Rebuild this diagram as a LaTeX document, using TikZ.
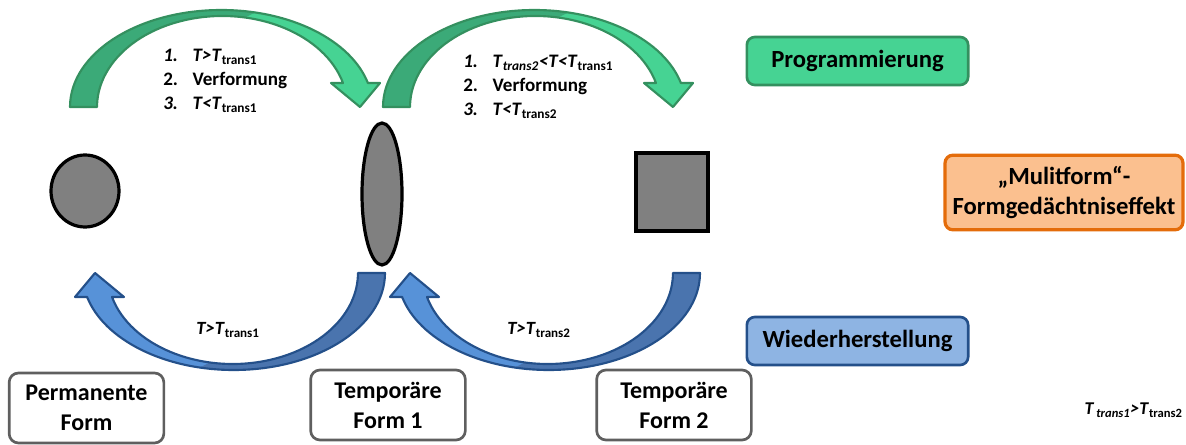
\documentclass[tikz,border=0pt]{standalone}
\usepackage{fontspec}
\setmainfont{Carlito}
\usetikzlibrary{shapes.geometric}
\definecolor{gnlight}{HTML}{46D393}
\definecolor{gndark}{HTML}{3BAA78}
\definecolor{gnline}{HTML}{34905F}
\definecolor{bllight}{HTML}{5792D8}
\definecolor{bldark}{HTML}{4A74AE}
\definecolor{blline}{HTML}{24508A}
\definecolor{bboxfill}{HTML}{8EB4E3}
\definecolor{oboxfill}{HTML}{FBC08F}
\definecolor{oboxline}{HTML}{E46C0A}
\definecolor{framegray}{HTML}{5F5F5F}
\definecolor{blobgray}{HTML}{808080}
\tikzset{
  bentarrow/.pic={
    \fill[#1light] (70,107) arc[start angle=-180,end angle=-14.3,x radius=151.3,y radius=97]
      -- (380,83) -- (360,107) -- (331,83) -- (343,83)
      arc[start angle=-15.3,end angle=-180,x radius=125.2,y radius=91] -- cycle;
    \fill[#1dark] (70,107) arc[start angle=-180,end angle=-77,x radius=151.3,y radius=97]
      -- (245,17.5) arc[start angle=-79.5,end angle=-180,x radius=125.2,y radius=91] -- cycle;
    \draw[#1line,line width=1.6pt,line join=round] (70,107)
      arc[start angle=-180,end angle=-14.3,x radius=151.3,y radius=97]
      -- (380,83) -- (360,107) -- (331,83) -- (343,83)
      arc[start angle=-15.3,end angle=-180,x radius=125.2,y radius=91] -- cycle;
  },
  blob/.style={draw=black,fill=blobgray,line width=2.4pt,inner sep=0pt},
  labelbox/.style={rounded corners=6pt,line width=2pt,align=center,inner sep=2pt,
    font=\fontsize{18.5}{22.5}\selectfont\bfseries},
  formbox/.style={draw=framegray,fill=white,rounded corners=7pt,line width=2pt,align=center,
    minimum width=116pt,minimum height=52.5pt,inner sep=1pt,font=\fontsize{18}{22.5}\selectfont\bfseries},
  listtext/.style={inner sep=0pt,font=\fontsize{14.3}{18}\selectfont\bfseries},
  condtext/.style={inner sep=0pt,font=\fontsize{14}{17}\selectfont\bfseries}
}
\begin{document}
\begin{tikzpicture}[x=0.75pt,y=-0.75pt]
  \useasboundingbox (0,0) rectangle (1186,445);
  % curved arrows
  \pic at (0,0) {bentarrow=gn};
  \pic at (313,0) {bentarrow=gn};
  \pic[rotate=180] at (455,380) {bentarrow=bl};
  \pic[rotate=180] at (770,380) {bentarrow=bl};
  % the three forms
  \node[blob,ellipse,minimum width=51pt,minimum height=54pt] (perm) at (85,191) {};
  \node[blob,ellipse,minimum width=30pt,minimum height=106.5pt] (temp1) at (382,194) {};
  \node[blob,rectangle,minimum width=54pt,minimum height=58.5pt] (temp2) at (672,192) {};
  % steps
  \node[listtext,anchor=west] (steps1) at (163,81) {\begin{tabular}{@{}p{22pt}@{}l@{}}
    \textit{1.} & \textit{T>T}\textsubscript{trans1}\\
    2. & Verformung\\
    \textit{3.} & \textit{T<T}\textsubscript{trans1}
  \end{tabular}};
  \node[listtext,anchor=west] (steps2) at (463,87) {\begin{tabular}{@{}p{22pt}@{}l@{}}
    \textit{1.} & \textit{T}\textsubscript{\textit{trans2}}\textit{<T<T}\textsubscript{trans1}\\
    2. & Verformung\\
    \textit{3.} & \textit{T<T}\textsubscript{trans2}
  \end{tabular}};
  \node[condtext] (back1) at (228,330) {\textit{T>T}\textsubscript{trans1}};
  \node[condtext] (back2) at (539,330) {\textit{T>T}\textsubscript{trans2}};
  % legend
  \node[labelbox,draw=gnline,fill=gnlight,minimum width=166pt,minimum height=36pt] (prog) at (857.5,61) {Programmierung};
  \node[labelbox,draw=oboxline,fill=oboxfill,line width=2.4pt,minimum width=178.5pt,minimum height=56pt] (multi) at (1064,192.5) {„Mulitform“-\\Formgedächtniseffekt};
  \node[labelbox,draw=blline,fill=bboxfill,minimum width=166pt,minimum height=36pt] (recov) at (857.5,341) {Wiederherstellung};
  \node[condtext,anchor=east,font=\fontsize{13.5}{16}\selectfont\bfseries] (note) at (1183,410) {\textit{T}\textsubscript{\,\textit{trans1}}\textit{>T}\textsubscript{trans2}};
  % form labels
  \node[formbox] (permlab) at (86.5,408) {Permanente\\Form};
  \node[formbox] (temp1lab) at (388,405) {Temporäre\\Form 1};
  \node[formbox] (temp2lab) at (674,405) {Temporäre\\Form 2};
\end{tikzpicture}
\end{document}
